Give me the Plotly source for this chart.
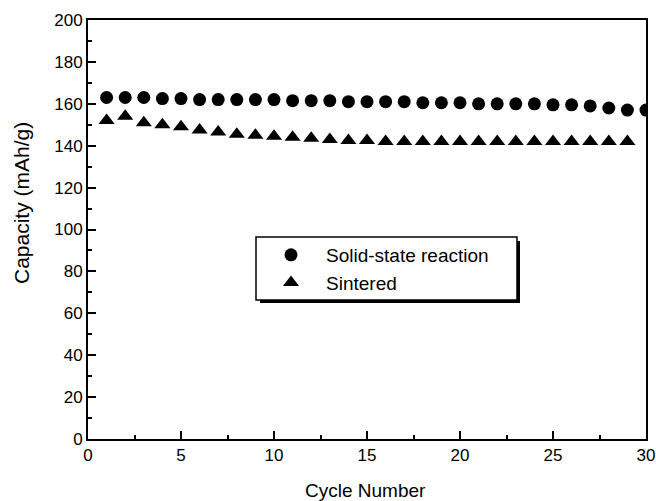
import plotly.graph_objects as go

cycles_solid = list(range(1, 31))
cap_solid = [163, 163, 163, 162.5, 162.5, 162, 162, 162, 162, 162,
             161.5, 161.5, 161.5, 161, 161, 161, 161, 160.5, 160.5, 160.5,
             160, 160, 160, 160, 159.5, 159.5, 159, 158, 157, 157]
cycles_sint = list(range(1, 30))
cap_sint = [152, 154, 151, 150, 149, 147.5, 146.5, 145.5, 145, 144.5,
            144, 143.5, 143, 142.5, 142.5, 142, 142, 142, 142, 142,
            142, 142, 142, 142, 142, 142, 142, 142, 142]

font = "Liberation Sans, Arial, sans-serif"
fig = go.Figure()
fig.add_trace(go.Scatter(x=cycles_solid, y=cap_solid, mode="markers",
                         name="Solid-state reaction",
                         marker=dict(symbol="circle", size=13, color="black")))
fig.add_trace(go.Scatter(x=cycles_sint, y=cap_sint, mode="markers",
                         name="Sintered",
                         marker=dict(symbol="triangle-up", size=14, color="black")))

L, R, T, B = 88, 10, 20, 62
W, H = 656, 501
pw, ph = W - L - R, H - T - B

def px(xp):
    return (xp - L) / pw

def py(yp):
    return (H - B - yp) / ph

axis_common = dict(showgrid=False, zeroline=False, showline=True, linecolor="black",
                   linewidth=2, mirror=True, ticks="inside", ticklen=8, tickwidth=1.5,
                   tickcolor="black", automargin=False,
                   tickfont=dict(family=font, size=17, color="black"))
fig.update_xaxes(range=[0, 30], dtick=5, tick0=0,
                 minor=dict(dtick=2.5, ticks="inside", ticklen=4, tickcolor="black"),
                 **axis_common)
fig.update_yaxes(range=[0, 200], dtick=20, tick0=0,
                 minor=dict(dtick=10, ticks="inside", ticklen=4, tickcolor="black"),
                 **axis_common)

fig.add_annotation(text="Cycle Number", xref="paper", yref="paper",
                   x=px(365), y=py(490), xanchor="center", yanchor="middle",
                   showarrow=False, font=dict(family=font, size=19, color="black"))
fig.add_annotation(text="Capacity (mAh/g)", xref="paper", yref="paper",
                   x=px(22), y=py(203), xanchor="center", yanchor="middle",
                   textangle=-90, showarrow=False,
                   font=dict(family=font, size=21, color="black"))

# legend shadow and frame
fig.add_shape(type="rect", xref="paper", yref="paper",
              x0=px(260), x1=px(520), y0=py(303), y1=py(241),
              fillcolor="black", line=dict(width=0), layer="above")
fig.add_shape(type="rect", xref="paper", yref="paper",
              x0=px(256), x1=px(517), y0=py(300), y1=py(237),
              fillcolor="white", line=dict(width=1.5, color="black"), layer="above")

fig.update_layout(
    width=W, height=H, margin=dict(l=L, r=R, t=T, b=B),
    plot_bgcolor="white", paper_bgcolor="white",
    legend=dict(x=px(256), y=py(236), xanchor="left", yanchor="top",
                bgcolor="rgba(0,0,0,0)", borderwidth=0,
                font=dict(family=font, size=19, color="black"),
                itemwidth=60, tracegroupgap=0),
)
fig.write_html("out.html")
